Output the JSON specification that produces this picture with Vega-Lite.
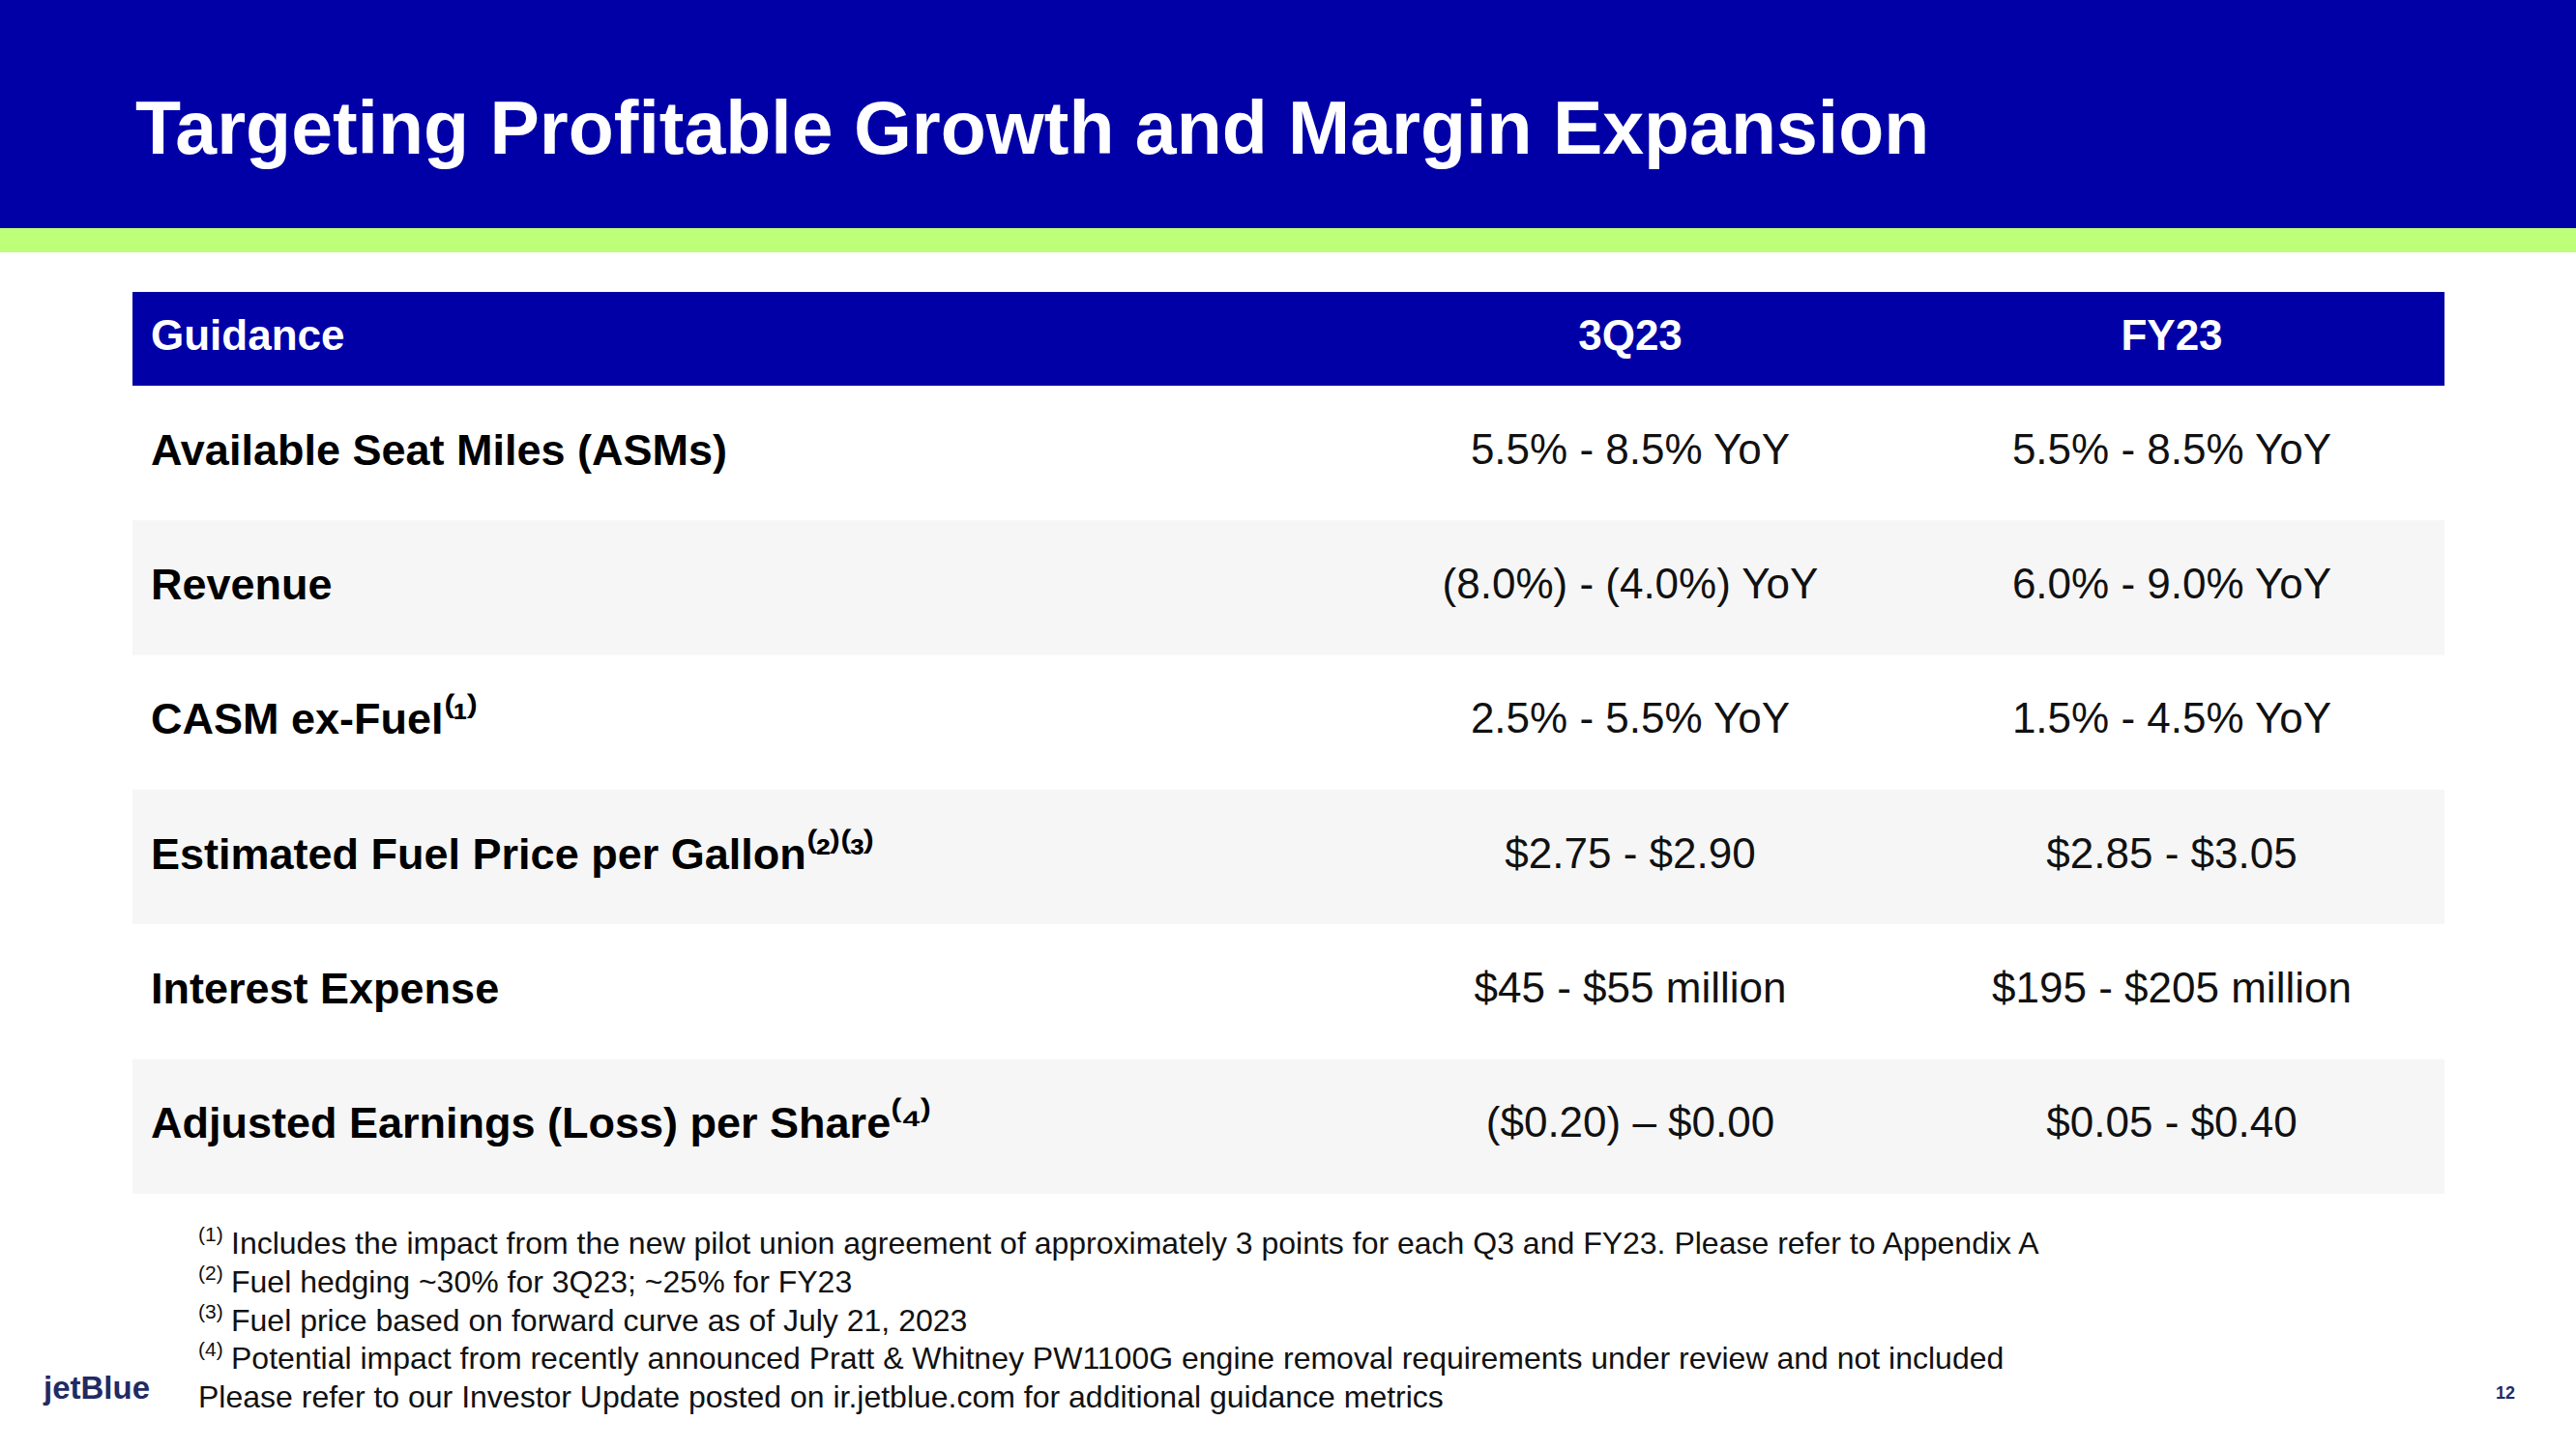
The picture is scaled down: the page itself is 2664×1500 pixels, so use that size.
{
  "$schema": "https://vega.github.io/schema/vega-lite/v6.json",
  "width": 2664,
  "height": 1500,
  "autosize": "none",
  "padding": 0,
  "background": "#FFFFFF",
  "config": {"view": {"stroke": null}, "text": {"font": "Liberation Sans"}},
  "datasets": {
    "title": [{"text": "Targeting Profitable Growth and Margin Expansion"}],
    "header": [{"column": "Guidance"}, {"column": "3Q23"}, {"column": "FY23"}],
    "metrics": [
      {"row": 1, "metric": "Available Seat Miles (ASMs)"},
      {"row": 2, "metric": "Revenue"},
      {"row": 3, "metric": "CASM ex-Fuel⁽¹⁾"},
      {"row": 4, "metric": "Estimated Fuel Price per Gallon⁽²⁾⁽³⁾"},
      {"row": 5, "metric": "Interest Expense"},
      {"row": 6, "metric": "Adjusted Earnings (Loss) per Share⁽⁴⁾"}
    ],
    "cells": [
      {"row": 1, "column": "3Q23", "value": "5.5% - 8.5% YoY"},
      {"row": 1, "column": "FY23", "value": "5.5% - 8.5% YoY"},
      {"row": 2, "column": "3Q23", "value": "(8.0%) - (4.0%) YoY"},
      {"row": 2, "column": "FY23", "value": "6.0% - 9.0% YoY"},
      {"row": 3, "column": "3Q23", "value": "2.5% - 5.5% YoY"},
      {"row": 3, "column": "FY23", "value": "1.5% - 4.5% YoY"},
      {"row": 4, "column": "3Q23", "value": "$2.75 - $2.90"},
      {"row": 4, "column": "FY23", "value": "$2.85 - $3.05"},
      {"row": 5, "column": "3Q23", "value": "$45 - $55 million"},
      {"row": 5, "column": "FY23", "value": "$195 - $205 million"},
      {"row": 6, "column": "3Q23", "value": "($0.20) – $0.00"},
      {"row": 6, "column": "FY23", "value": "$0.05 - $0.40"}
    ],
    "notes": [
      {"line": 1, "mark": "(1)", "text": "Includes the impact from the new pilot union agreement of approximately 3 points for each Q3 and FY23. Please refer to Appendix A"},
      {"line": 2, "mark": "(2)", "text": "Fuel hedging ~30% for 3Q23; ~25% for FY23"},
      {"line": 3, "mark": "(3)", "text": "Fuel price based on forward curve as of July 21, 2023"},
      {"line": 4, "mark": "(4)", "text": "Potential impact from recently announced Pratt & Whitney PW1100G engine removal requirements under review and not included"}
    ],
    "closing": [{"line": 5, "text": "Please refer to our Investor Update posted on ir.jetblue.com for additional guidance metrics"}],
    "brand": [{"logo": "jetBlue", "page": "12"}]
  },
  "layer": [
    {
      "data": {"name": "title"},
      "mark": {"type": "rect", "fill": "#0000A6"},
      "encoding": {
        "x": {"datum": "slide", "type": "nominal", "scale": {"type": "band", "domain": ["slide"], "range": [0, 2664], "padding": 0}, "axis": null},
        "y": {"datum": "title band", "type": "nominal", "scale": {"type": "band", "domain": ["title band"], "range": [0, 236], "padding": 0}, "axis": null}
      }
    },
    {
      "data": {"name": "title"},
      "mark": {"type": "rect", "fill": "#BEFF7A"},
      "encoding": {
        "x": {"datum": "slide", "type": "nominal", "scale": {"type": "band", "domain": ["slide"], "range": [0, 2664], "padding": 0}, "axis": null},
        "y": {"datum": "stripe", "type": "nominal", "scale": {"type": "band", "domain": ["stripe"], "range": [236, 261], "padding": 0}, "axis": null}
      }
    },
    {
      "data": {"name": "title"},
      "mark": {"type": "text", "align": "left", "baseline": "middle", "fontSize": 77, "fontWeight": "bold", "color": "#FFFFFF"},
      "encoding": {
        "x": {"datum": "title", "type": "nominal", "bandPosition": 0, "scale": {"type": "band", "domain": ["title"], "range": [140, 2600], "padding": 0}, "axis": null},
        "y": {"datum": "title", "type": "nominal", "scale": {"type": "band", "domain": ["title"], "range": [102, 170], "padding": 0}, "axis": null},
        "text": {"field": "text"}
      }
    },
    {
      "data": {"name": "title"},
      "mark": {"type": "rect", "fill": "#0000A6"},
      "encoding": {
        "x": {"datum": "table", "type": "nominal", "scale": {"type": "band", "domain": ["table"], "range": [137, 2528], "padding": 0}, "axis": null},
        "y": {"datum": "header", "type": "nominal", "scale": {"type": "band", "domain": ["header"], "range": [302, 399], "padding": 0}, "axis": null}
      }
    },
    {
      "data": {"name": "header"},
      "transform": [{"filter": "datum.column === 'Guidance'"}],
      "mark": {"type": "text", "align": "left", "baseline": "middle", "fontSize": 44, "fontWeight": "bold", "color": "#FFFFFF"},
      "encoding": {
        "x": {"datum": "label", "type": "nominal", "bandPosition": 0, "scale": {"type": "band", "domain": ["label"], "range": [156, 1406], "padding": 0}, "axis": null},
        "y": {"datum": "header", "type": "nominal", "scale": {"type": "band", "domain": ["header"], "range": [300, 397], "padding": 0}, "axis": null},
        "text": {"field": "column"}
      }
    },
    {
      "data": {"name": "header"},
      "transform": [{"filter": "datum.column !== 'Guidance'"}],
      "mark": {"type": "text", "align": "center", "baseline": "middle", "fontSize": 44, "fontWeight": "bold", "color": "#FFFFFF"},
      "encoding": {
        "x": {"field": "column", "type": "nominal", "scale": {"type": "band", "domain": ["3Q23", "FY23"], "range": [1406, 2526], "padding": 0}, "axis": null},
        "y": {"datum": "header", "type": "nominal", "scale": {"type": "band", "domain": ["header"], "range": [300, 397], "padding": 0}, "axis": null},
        "text": {"field": "column"}
      }
    },
    {
      "data": {"name": "metrics"},
      "mark": {"type": "rect"},
      "encoding": {
        "x": {"datum": "table", "type": "nominal", "scale": {"type": "band", "domain": ["table"], "range": [137, 2528], "padding": 0}, "axis": null},
        "y": {"field": "row", "type": "ordinal", "scale": {"type": "band", "domain": [1, 2, 3, 4, 5, 6], "range": [399, 1235], "padding": 0}, "axis": null},
        "fill": {"condition": {"test": "datum.row % 2 === 0", "value": "#F6F6F6"}, "value": "#FFFFFF"}
      }
    },
    {
      "data": {"name": "metrics"},
      "mark": {"type": "text", "align": "left", "baseline": "middle", "fontSize": 45, "fontWeight": "bold", "color": "#000000"},
      "encoding": {
        "x": {"datum": "label", "type": "nominal", "bandPosition": 0, "scale": {"type": "band", "domain": ["label"], "range": [156, 1406], "padding": 0}, "axis": null},
        "y": {"field": "row", "type": "ordinal", "scale": {"type": "band", "domain": [1, 2, 3, 4, 5, 6], "range": [397, 1233], "padding": 0}, "axis": null},
        "text": {"field": "metric"}
      }
    },
    {
      "data": {"name": "cells"},
      "mark": {"type": "text", "align": "center", "baseline": "middle", "fontSize": 44, "color": "#111111"},
      "encoding": {
        "x": {"field": "column", "type": "nominal", "scale": {"type": "band", "domain": ["3Q23", "FY23"], "range": [1406, 2526], "padding": 0}, "axis": null},
        "y": {"field": "row", "type": "ordinal", "scale": {"type": "band", "domain": [1, 2, 3, 4, 5, 6], "range": [397, 1233], "padding": 0}, "axis": null},
        "text": {"field": "value"}
      }
    },
    {
      "data": {"name": "notes"},
      "mark": {"type": "text", "align": "left", "baseline": "middle", "fontSize": 21, "color": "#111111"},
      "encoding": {
        "x": {"datum": "note mark", "type": "nominal", "bandPosition": 0, "scale": {"type": "band", "domain": ["note mark"], "range": [205, 238], "padding": 0}, "axis": null},
        "y": {"field": "line", "type": "ordinal", "scale": {"type": "band", "domain": [1, 2, 3, 4, 5], "range": [1258, 1457], "padding": 0}, "axis": null},
        "text": {"field": "mark"}
      }
    },
    {
      "data": {"name": "notes"},
      "mark": {"type": "text", "align": "left", "baseline": "middle", "fontSize": 32, "color": "#111111"},
      "encoding": {
        "x": {"datum": "note text", "type": "nominal", "bandPosition": 0, "scale": {"type": "band", "domain": ["note text"], "range": [239, 2400], "padding": 0}, "axis": null},
        "y": {"field": "line", "type": "ordinal", "scale": {"type": "band", "domain": [1, 2, 3, 4, 5], "range": [1267, 1466], "padding": 0}, "axis": null},
        "text": {"field": "text"}
      }
    },
    {
      "data": {"name": "closing"},
      "mark": {"type": "text", "align": "left", "baseline": "middle", "fontSize": 32, "color": "#111111"},
      "encoding": {
        "x": {"datum": "closing", "type": "nominal", "bandPosition": 0, "scale": {"type": "band", "domain": ["closing"], "range": [205, 2400], "padding": 0}, "axis": null},
        "y": {"field": "line", "type": "ordinal", "scale": {"type": "band", "domain": [1, 2, 3, 4, 5], "range": [1267, 1466], "padding": 0}, "axis": null},
        "text": {"field": "text"}
      }
    },
    {
      "data": {"name": "brand"},
      "mark": {"type": "text", "align": "left", "baseline": "middle", "fontSize": 33, "fontWeight": "bold", "color": "#1F2B66"},
      "encoding": {
        "x": {"datum": "logo", "type": "nominal", "bandPosition": 0, "scale": {"type": "band", "domain": ["logo"], "range": [45, 160], "padding": 0}, "axis": null},
        "y": {"datum": "footer", "type": "nominal", "scale": {"type": "band", "domain": ["footer"], "range": [1417, 1457], "padding": 0}, "axis": null},
        "text": {"field": "logo"}
      }
    },
    {
      "data": {"name": "brand"},
      "mark": {"type": "text", "align": "center", "baseline": "middle", "fontSize": 18, "fontWeight": "bold", "color": "#1F2B66"},
      "encoding": {
        "x": {"datum": "page", "type": "nominal", "scale": {"type": "band", "domain": ["page"], "range": [2571, 2611], "padding": 0}, "axis": null},
        "y": {"datum": "footer", "type": "nominal", "scale": {"type": "band", "domain": ["footer"], "range": [1422, 1462], "padding": 0}, "axis": null},
        "text": {"field": "page"}
      }
    }
  ],
  "resolve": {"scale": {"x": "independent", "y": "independent"}}
}
